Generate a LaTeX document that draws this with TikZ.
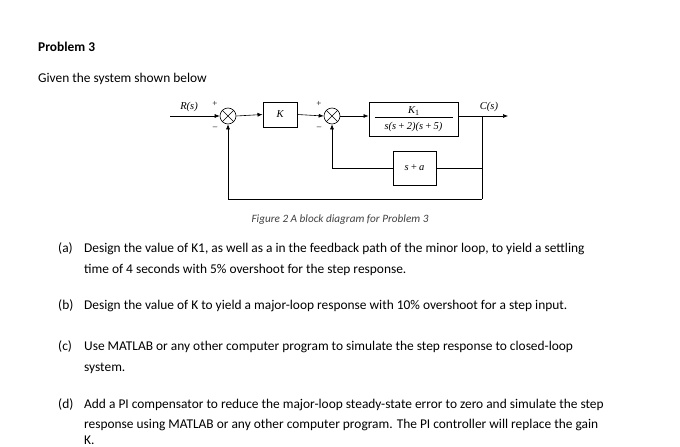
\documentclass[tikz,border=0pt]{standalone}
\usepackage{fontspec}
\setmainfont{Carlito}
\newfontfamily\dfont{Liberation Serif}
\usetikzlibrary{arrows.meta}
\begin{document}
\begin{tikzpicture}[x=1pt,y=-1pt,
  blk/.style={draw,line width=1pt,inner sep=0pt},
  sumj/.style={draw,circle,minimum size=16pt,inner sep=0pt,line width=0.6pt},
  ln/.style={line width=0.6pt},
  arr/.style={ln,-{Latex[length=5pt,width=4pt]}},
  dl/.style={font=\dfont\itshape\fontsize{10.5}{11}\selectfont},
  sg/.style={font=\dfont\fontsize{9}{10}\selectfont,inner sep=0pt},
  txt/.style={anchor=base west,font=\fontsize{13.4}{15}\selectfont,inner sep=0pt}]
\useasboundingbox (0,0) rectangle (680,447);
\node[sumj] (s1) at (228,116) {};
\draw[ln] (s1.north west)--(s1.south east) (s1.north east)--(s1.south west);
\node[sumj] (s2) at (332,116) {};
\draw[ln] (s2.north west)--(s2.south east) (s2.north east)--(s2.south west);
\node[blk,minimum width=34pt,minimum height=25pt,dl] (k) at (280,114.5) {K};
\node[blk,minimum width=89pt,minimum height=34pt,dl,align=center] (g) at (413.5,119)
  {\shortstack{K\raisebox{-2pt}{\upshape\footnotesize 1}\\[-1pt]\rule{78pt}{0.5pt}\\[1pt]s(s\,+\,2)(s\,+\,5)}};
\node[blk,minimum width=43pt,minimum height=34pt,dl] (h) at (414.5,168) {s\,+\,a};
\coordinate (in) at (170,116);
\coordinate (br) at (482,116);
\coordinate (out) at (508,116);
\coordinate (b2) at (482,199);
\draw[arr] (in)--(s1.west);
\draw[arr] (s1.east)--(k.west);
\draw[arr] (k.east)--(s2.west);
\draw[arr] (s2.east)--(g.west |- s2.east);
\draw[arr] (g.east |- br)--(out);
\draw[ln] (br)--(b2);
\draw[ln] (h.east)--(h.east -| br);
\draw[arr] (h.west)-|(s2.south);
\draw[arr] (b2)-|(s1.south);
\node[dl,anchor=base] (rl) at (189,109) {R(s)};
\node[dl,anchor=base] (cl) at (489,109) {C(s)};
\node[sg] (p1) at (215,104) {+};
\node[sg] (m1) at (215,128) {\textendash};
\node[sg] (p2) at (319,104) {+};
\node[sg] (m2) at (319,128) {\textendash};
\node[font=\itshape\fontsize{11.2}{12}\selectfont,text=black!75] (cap) at (340,220) {Figure 2 A block diagram for Problem 3};
\node[txt,font=\bfseries\fontsize{13.4}{15}\selectfont] (t0) at (38,51) {Problem 3};
\node[txt] (t1) at (38,82) {Given the system shown below};
\node[txt] (la) at (58,252) {(a)};
\node[txt] (a1) at (84,252) {Design the value of K1, as well as a in the feedback path of the minor loop, to yield a settling};
\node[txt] (a2) at (84,273) {time of 4 seconds with 5\% overshoot for the step response.};
\node[txt] (lb) at (58,309) {(b)};
\node[txt] (b1) at (84,309) {Design the value of K to yield a major-loop response with 10\% overshoot for a step input.};
\node[txt] (lc) at (58,350) {(c)};
\node[txt] (c1) at (84,350) {Use MATLAB or any other computer program to simulate the step response to closed-loop};
\node[txt] (c2) at (84,371) {system.};
\node[txt] (ld) at (58,408) {(d)};
\node[txt] (d1) at (84,408) {Add a PI compensator to reduce the major-loop steady-state error to zero and simulate the step};
\node[txt] (d2) at (84,428) {response using MATLAB or any other computer program. The PI controller will replace the gain};
\node[txt] (d3) at (84,444) {K.};
\end{tikzpicture}
\end{document}
